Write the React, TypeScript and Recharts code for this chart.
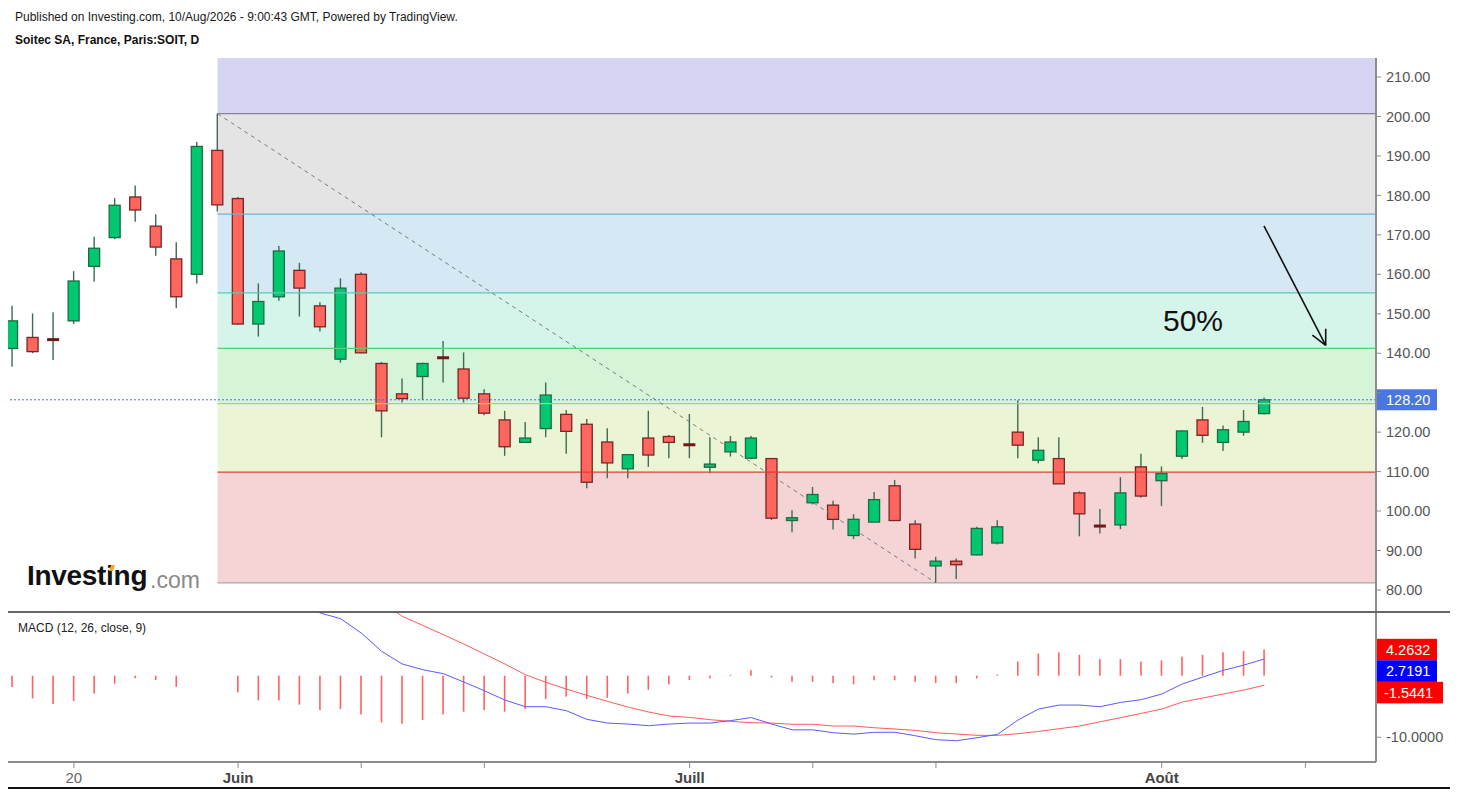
import React from 'react'
import { ComposedChart, Bar, Line, XAxis, YAxis, ReferenceArea, ReferenceLine } from 'recharts'

// Daily candles, 15 May -> 10 Aug (index 0..61)
const OPEN = [141.2, 144.0, 143.6, 148.2, 162.0, 169.3, 179.6, 172.2, 163.9, 160.0, 191.4,
  179.2, 147.4, 154.3, 161.0, 152.0, 138.5, 160.0, 137.4, 129.7, 134.1, 139.0, 136.0, 129.7, 123.1, 117.4, 120.9, 124.5, 122.0, 117.5, 110.7, 118.5, 118.9,
  116.9, 111.1, 115.0, 113.4, 113.3, 97.6, 102.1, 101.5, 93.8, 97.2, 106.4, 96.7, 86.1, 87.3, 88.9, 91.9, 120.0, 112.9, 113.3, 104.6, 96.3, 96.5, 111.2,
  107.7, 113.9, 123.1, 117.4, 120.0, 124.7]
const HIGH = [152.0, 150.1, 150.4, 160.8, 169.5, 179.3, 182.5, 175.2, 168.1, 193.5, 200.7,
  179.6, 157.7, 167.2, 162.9, 152.9, 159.0, 160.5, 137.8, 133.6, 137.6, 143.1, 140.2, 130.9, 125.4, 122.6, 132.6, 125.6, 123.3, 121.0, 114.3, 125.4, 119.3,
  124.6, 118.7, 119.0, 119.0, 113.4, 100.2, 106.1, 102.6, 99.2, 104.8, 107.9, 97.7, 88.4, 88.0, 96.0, 97.7, 128.1, 118.7, 118.7, 105.0, 100.5, 108.6, 114.5,
  111.3, 120.4, 126.4, 121.7, 125.6, 128.8]
const LOW = [136.6, 140.0, 138.3, 147.4, 158.1, 168.9, 173.3, 164.7, 151.4, 157.7, 175.9,
  147.2, 144.2, 153.3, 149.3, 145.5, 137.6, 140.0, 118.7, 127.5, 128.1, 132.6, 127.5, 124.3, 114.0, 117.4, 118.7, 114.5, 105.8, 108.3, 108.3, 111.2, 113.4,
  113.4, 109.6, 113.8, 113.1, 97.7, 94.6, 101.7, 95.3, 92.9, 97.1, 97.5, 88.0, 81.8, 82.8, 88.8, 91.5, 113.4, 112.1, 106.9, 93.6, 94.3, 95.4, 103.4,
  101.3, 113.2, 117.3, 115.2, 119.1, 124.5]
const CLOSE = [148.2, 140.4, 143.3, 158.3, 166.6, 177.5, 176.3, 166.9, 154.3, 192.4, 177.6,
  147.4, 153.1, 165.9, 156.5, 146.7, 156.5, 140.1, 125.4, 128.5, 137.4, 138.7, 128.6, 124.8, 116.3, 118.5, 129.4, 120.2, 107.3, 112.2, 114.3, 114.2, 117.4,
  116.7, 111.9, 117.5, 118.5, 98.2, 98.3, 104.2, 97.9, 97.9, 102.9, 97.6, 90.3, 87.3, 86.4, 95.6, 96.0, 116.7, 115.4, 106.9, 99.3, 96.1, 104.6, 103.8,
  109.5, 120.3, 119.2, 120.6, 122.7, 128.2]

// MACD (12, 26, close, 9)
const HIST = [-1.84, -3.7, -4.6, -4.1, -2.9, -1.3, -0.4, -0.7, -1.8, null, null,
  -2.7, -4.0, -4.0, -4.7, -5.6, -5.4, -6.3, -7.6, -7.8, -7.2, -6.3, -5.85, -5.6, -5.85, -5.4, -3.8, -3.4, -3.8, -3.6, -2.9, -2.3, -1.4,
  -0.7, -0.45, 0.15, 0.9, -0.3, -1.0, -1.0, -1.2, -1.4, -0.75, -0.75, -1.0, -1.2, -1.2, -0.45, 0.2, 2.3, 3.6, 3.8, 3.4, 2.7, 2.7, 2.3,
  2.5, 3.1, 3.4, 3.8, 4.0, 4.2632]
const MACD = [null, null, null, null, null, null, null, null, null, null, null,
  null, null, null, 11.7, 10.2, 9.27, 6.94, 3.96, 1.9, 0.98, 0.33, -1.03, -2.44, -3.96, -5.04, -5.04, -5.7, -7.1, -7.7, -7.86, -8.13, -7.86,
  -7.7, -7.7, -7.3, -6.8, -7.86, -8.8, -8.8, -9.27, -9.5, -9.2, -9.2, -9.76, -10.4, -10.57, -10.08, -9.54, -7.2, -5.42, -4.77, -4.77, -5.04, -4.34, -3.9,
  -2.98, -1.35, -0.22, 0.87, 1.73, 2.7191]
const SIGNAL = [null, null, null, null, null, null, null, null, null, null, null,
  null, null, null, null, null, null, null, 12.0, 9.65, 8.18, 6.67, 5.15, 3.53, 1.9, 0.16, -1.08, -2.17, -3.2, -4.17, -5.1, -5.9, -6.55,
  -6.78, -7.15, -7.42, -7.64, -7.7, -7.9, -7.9, -8.18, -8.18, -8.46, -8.67, -8.89, -9.27, -9.48, -9.7, -9.7, -9.43, -9.06, -8.62, -8.18, -7.48, -6.83, -6.13,
  -5.42, -4.28, -3.63, -2.98, -2.33, -1.5441]

const X_TICKS = [3, 11, 17, 23, 33, 39, 45, 56, 63]
const X_LABELS: Record<number, string> = { 3: '20', 11: 'Juin', 33: 'Juill', 56: 'Août' }
const PRICE_TICKS = [80, 90, 100, 110, 120, 130, 140, 150, 160, 170, 180, 190, 200, 210]
const MACD_TICKS = [-10]

// fibonacci retracement drawn from the 29 May high to the 17 Jul low
const FIB_HIGH = 200.7
const FIB_LOW = 81.8
const FIB_FROM = 10
const FIB_TO = 45
const FIB_RATIOS = [0, 0.236, 0.382, 0.5, 0.618, 0.786, 1]
// fill of the band that starts at each ratio (the last one runs to the top)
const FIB_FILLS = ['#f4d4d4', '#ebf5d5', '#d5f4d8', '#d5f4ea', '#d4e9f4', '#e4e4e4', '#d5d5f3']
const FIB_LINES = ['#a8a8a8', '#d9402e', '#a9d46a', '#5ccf6a', '#5cc9b8', '#6fb3d9', '#85859a']

const LAST_PRICE = 128.2
const ARROW = { from: { x: 60.98, y: 172.3 }, tip: { x: 63.99, y: 142.0 }, wingA: { x: 63.34, y: 144.6 }, wingB: { x: 63.99, y: 146.2 } }

const X_DOMAIN: [number, number] = [-0.21, 66.44]
const PRICE_DOMAIN: [number, number] = [74.42, 214.815]
const MACD_DOMAIN: [number, number] = [-14.03, 10.36]

const FONT = 'Arial, "Liberation Sans", sans-serif'
const AXIS = '#8c8c8c'
const GREEN = '#00c86e', GREEN_EDGE = '#1d6b46'
const RED = '#ff665e', RED_EDGE = '#7a2424'
const WICK = '#3f6b54'

const rows = OPEN.map((o, i) => ({
  i, o, h: HIGH[i], l: LOW[i], c: CLOSE[i],
  hist: HIST[i], macd: MACD[i], signal: SIGNAL[i],
}))

const fibLevel = (r: number) => FIB_LOW + (FIB_HIGH - FIB_LOW) * r

function Candle(props: any) {
  const { x, y, width, height, payload } = props
  if (x == null || y == null || !payload) return null
  const { o, h, l, c } = payload
  const top = Math.min(y, y + height)
  const k = Math.abs(height) / (h - l || 1)
  const cx = x + width / 2
  const py = (v: number) => top + (h - v) * k
  const bTop = py(Math.max(o, c))
  const bBot = py(Math.min(o, c))
  const up = c >= o
  const bw = 11
  const wick = <line x1={cx} x2={cx} y1={py(h)} y2={py(l)} stroke={WICK} strokeWidth={1.4} />
  if (bBot - bTop < 2) {
    return (
      <g>
        {wick}
        <rect x={cx - bw / 2 - 0.5} y={(bTop + bBot) / 2 - 1.5} width={bw + 1} height={3} fill={up ? GREEN_EDGE : '#6e1818'} />
      </g>
    )
  }
  return (
    <g>
      {wick}
      <rect x={cx - bw / 2} y={bTop} width={bw} height={bBot - bTop}
        fill={up ? GREEN : RED} stroke={up ? GREEN_EDGE : RED_EDGE} strokeWidth={1.3} />
    </g>
  )
}

function HistBar(props: any) {
  const { x, y, width, height } = props
  if (x == null || y == null || !height) return null
  const cx = x + width / 2
  return <rect x={cx - 0.8} y={Math.min(y, y + height)} width={1.6} height={Math.abs(height)} fill="#ff6262" />
}

function MonthTick(props: any) {
  const { x, y, payload } = props
  const label = X_LABELS[payload.value] ?? ''
  const bold = label !== '20'
  return (
    <text x={x} y={y + 13} textAnchor="middle" fontSize={15} fontWeight={bold ? 700 : 400} fill={bold ? '#444' : '#666'}>
      {label}
    </text>
  )
}

function PriceTag(props: any) {
  const { x, y, width } = props.viewBox
  const left = x + width
  return (
    <g>
      <rect x={left} y={y - 10.5} width={61} height={21} fill="#4a76e4" />
      <text x={left + 10} y={y} dy="0.36em" fill="#fff" fontSize={14.5}>{LAST_PRICE.toFixed(2)}</text>
    </g>
  )
}

function MacdTags(props: any) {
  const { x, y, width } = props.viewBox
  const left = x + width
  const tags = [
    { v: HIST[HIST.length - 1] as number, fill: '#ff0000', w: 61 },
    { v: MACD[MACD.length - 1] as number, fill: '#0000ff', w: 61 },
    { v: SIGNAL[SIGNAL.length - 1] as number, fill: '#ff0000', w: 67 },
  ]
  return (
    <g>
      {tags.map((t, k) => (
        <g key={k}>
          <rect x={left} y={y - 10.7 + k * 21.5} width={t.w} height={21.6} fill={t.fill} />
          <text x={left + (t.v < 0 ? 8 : 10)} y={y + k * 21.5} dy="0.36em" fill="#fff" fontSize={14.5}>{t.v.toFixed(4)}</text>
        </g>
      ))}
    </g>
  )
}

export default function App() {
  const bands = FIB_RATIOS.map((r, k) => (
    <ReferenceArea key={'b' + k} x1={FIB_FROM} x2={X_DOMAIN[1]}
      y1={fibLevel(r)} y2={k < FIB_RATIOS.length - 1 ? fibLevel(FIB_RATIOS[k + 1]) : PRICE_DOMAIN[1]}
      fill={FIB_FILLS[k]} fillOpacity={1} stroke="none" ifOverflow="visible" />
  ))
  const lines = FIB_RATIOS.map((r, k) => (
    <ReferenceLine key={'l' + k} segment={[{ x: FIB_FROM, y: fibLevel(r) }, { x: X_DOMAIN[1], y: fibLevel(r) }]}
      stroke={FIB_LINES[k]} strokeWidth={1.2} ifOverflow="visible" />
  ))

  return (
    <div style={{ position: 'absolute', left: 0, top: 0, width: 1458, height: 794, background: '#fff', fontFamily: FONT, overflow: 'hidden' }}>
      <div style={{ position: 'absolute', left: 15, top: 10, fontSize: 12, color: '#1a1a1a', whiteSpace: 'nowrap' }}>
        Published on Investing.com, 10/Aug/2026 - 9:00:43 GMT, Powered by TradingView.
      </div>
      <div style={{ position: 'absolute', left: 15, top: 33, fontSize: 12, fontWeight: 700, color: '#111', whiteSpace: 'nowrap' }}>
        Soitec SA, France, Paris:SOIT, D
      </div>

      <div style={{ position: 'absolute', left: 0, top: 0 }}>
        <ComposedChart width={1458} height={612} data={rows} margin={{ top: 58, right: 0, bottom: 0, left: 8 }}>
          <XAxis dataKey="i" type="number" domain={X_DOMAIN} allowDataOverflow hide />
          <YAxis orientation="right" type="number" domain={PRICE_DOMAIN} allowDataOverflow ticks={PRICE_TICKS} width={82}
            axisLine={{ stroke: AXIS, strokeWidth: 2 }} tickLine={{ stroke: AXIS }} tickSize={5} tickMargin={5}
            tick={{ fill: '#555', fontSize: 14.5 }}
            tickFormatter={(v: number) => (Math.abs(v - LAST_PRICE) < 4 ? '' : v.toFixed(2))} />
          {bands}
          {lines}
          <ReferenceLine segment={[{ x: FIB_FROM, y: FIB_HIGH }, { x: FIB_TO, y: FIB_LOW }]}
            stroke="#7a7a7a" strokeDasharray="4 4" strokeWidth={1} ifOverflow="visible" />
          <ReferenceLine y={LAST_PRICE} stroke="#4a6ee0" strokeDasharray="2 2" strokeWidth={1}
            label={(p: any) => <PriceTag {...p} />} />
          <Bar dataKey={(d: any) => [d.l, d.h]} shape={<Candle />} barSize={12} isAnimationActive={false} />
          <ReferenceLine segment={[ARROW.from, ARROW.tip]} stroke="#111" strokeWidth={1.6} ifOverflow="visible" />
          <ReferenceLine segment={[ARROW.wingA, ARROW.tip]} stroke="#111" strokeWidth={1.6} ifOverflow="visible" />
          <ReferenceLine segment={[ARROW.wingB, ARROW.tip]} stroke="#111" strokeWidth={1.6} ifOverflow="visible" />
        </ComposedChart>
      </div>

      <div style={{ position: 'absolute', left: 0, top: 612 }}>
        <ComposedChart width={1458} height={182} data={rows} margin={{ top: 0, right: 0, bottom: 6, left: 8 }}>
          <XAxis dataKey="i" type="number" domain={X_DOMAIN} allowDataOverflow ticks={X_TICKS} interval={0} height={26}
            axisLine={{ stroke: AXIS, strokeWidth: 2 }} tickLine={{ stroke: AXIS }} tickSize={6} tick={<MonthTick />} />
          <YAxis orientation="right" type="number" domain={MACD_DOMAIN} allowDataOverflow ticks={MACD_TICKS} width={82}
            axisLine={{ stroke: AXIS, strokeWidth: 2 }} tickLine={{ stroke: AXIS }} tickSize={5} tickMargin={5}
            tick={{ fill: '#555', fontSize: 14.5 }} tickFormatter={(v: number) => v.toFixed(4)} />
          <Bar dataKey="hist" shape={<HistBar />} barSize={2} isAnimationActive={false} />
          <Line dataKey="signal" stroke="#ff5a5a" strokeWidth={1} dot={false} isAnimationActive={false} />
          <Line dataKey="macd" stroke="#5a5aff" strokeWidth={1} dot={false} isAnimationActive={false} />
          <ReferenceLine y={HIST[HIST.length - 1] as number} stroke="none" label={(p: any) => <MacdTags {...p} />} />
        </ComposedChart>
      </div>

      <div style={{ position: 'absolute', left: 8, top: 611, width: 1442, height: 2, background: '#666' }} />
      <div style={{ position: 'absolute', left: 8, top: 787, width: 1442, height: 2, background: '#111' }} />
      <div style={{ position: 'absolute', left: 18, top: 621, fontSize: 12, color: '#222', whiteSpace: 'nowrap' }}>
        MACD (12, 26, close, 9)
      </div>

      <div style={{ position: 'absolute', left: 1163, top: 306, fontSize: 30, lineHeight: '30px', color: '#111' }}>50%</div>

      <div style={{ position: 'absolute', left: 27, top: 560, fontSize: 28, fontWeight: 700, color: '#111', whiteSpace: 'nowrap', letterSpacing: -0.3 }}>Investing</div>
      <div style={{ position: 'absolute', left: 110, top: 565, width: 4, height: 6, background: '#f5a623', transform: 'skewX(-20deg)' }} />
      <div style={{ position: 'absolute', left: 150, top: 567, fontSize: 23, color: '#8a8a8a', whiteSpace: 'nowrap' }}>.com</div>
    </div>
  )
}
